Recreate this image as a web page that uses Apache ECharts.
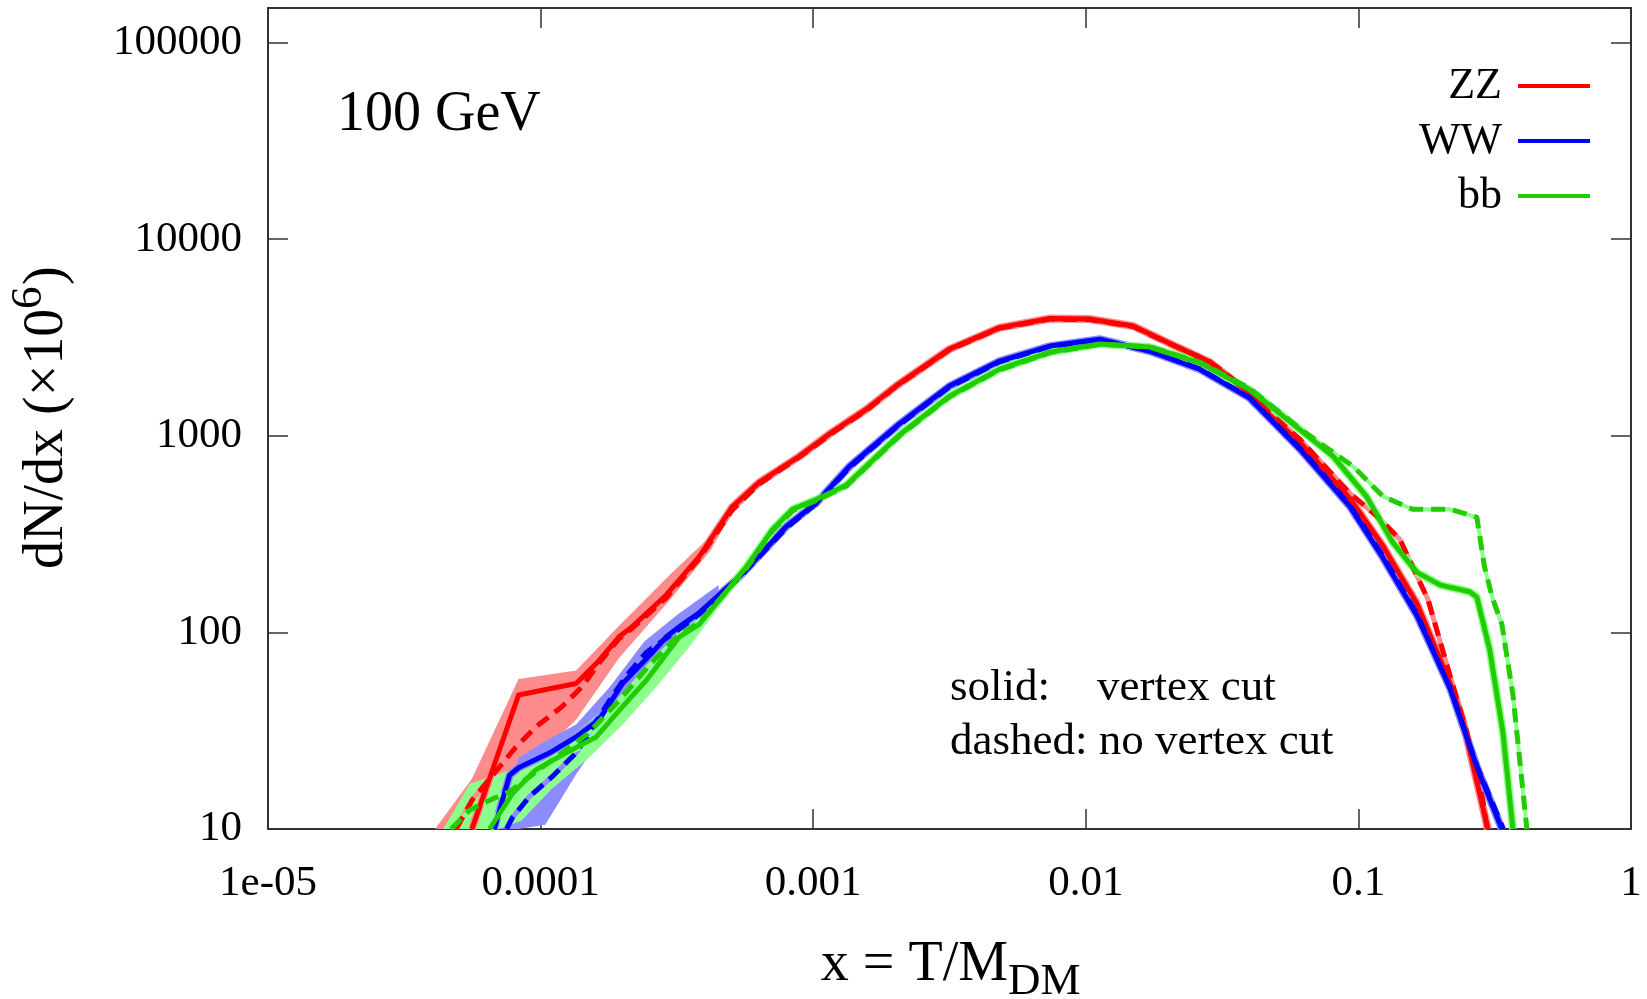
<!DOCTYPE html>
<html>
<head>
<meta charset="utf-8">
<script src="https://cdn.jsdelivr.net/npm/echarts@6/dist/echarts.min.js"></script>
<style>
html,body{margin:0;padding:0;background:#fff;}
#chart{width:1647px;height:999px;}
</style>
</head>
<body>
<div id="chart"></div>
<script>
// ---- tick labels ----
const xTickLabels = ['1e-05', '0.0001', '0.001', '0.01', '0.1', '1']; // 10^-5 .. 10^0
const yTickLabels = ['10', '100', '1000', '10000', '100000'];       // 10^1 .. 10^5

// ---- series: [x, dN/dx] ----
const zzSolid = [[5.6e-5,10],[8.3e-5,48],[1.35e-4,55],[1.64e-4,72],[1.94e-4,95],[2.17e-4,107],[2.89e-4,155],[3.82e-4,243],[5.05e-4,435],[6.34e-4,580],[8.9e-4,787],[1.17e-3,1043],[1.57e-3,1367],[2.02e-3,1800],[3.16e-3,2760],[4.83e-3,3550],[7.4e-3,3950],[1.03e-2,3930],[1.49e-2,3620],[1.98e-2,3000],[2.85e-2,2370],[3.98e-2,1650],[4.61e-2,1318],[6.1e-2,927],[9.3e-2,480],[0.123,275],[0.164,140],[0.217,55],[0.241,36],[0.2985,10]];
const zzDashed = [[4.9e-5,10],[5.6e-5,14],[8.1e-5,26],[9.6e-5,33],[1.2e-4,42],[1.42e-4,53],[1.64e-4,70],[1.94e-4,93],[2.17e-4,105],[2.89e-4,150],[3.82e-4,238],[5.05e-4,420],[6.34e-4,570],[8.9e-4,780],[1.17e-3,1030],[1.57e-3,1350],[2.02e-3,1790],[3.16e-3,2740],[4.83e-3,3530],[7.4e-3,3930],[1.03e-2,3900],[1.49e-2,3600],[1.98e-2,2990],[2.85e-2,2380],[3.98e-2,1680],[4.61e-2,1350],[6.1e-2,960],[9.3e-2,510],[0.117,390],[0.142,297],[0.18,147],[0.212,67],[0.25,31],[0.286,14],[0.297,10]];
const wwSolid = [[6.76e-5,10],[7.7e-5,18.8],[8.3e-5,20.5],[1.08e-4,24.4],[1.35e-4,29.4],[1.64e-4,36],[2.0e-4,55],[2.57e-4,79],[2.89e-4,95],[3.23e-4,107],[3.82e-4,126],[5.36e-4,192],[7.97e-4,346],[1.03e-3,458],[1.36e-3,700],[2.07e-3,1150],[3.16e-3,1790],[4.83e-3,2400],[7.4e-3,2860],[1.125e-2,3100],[1.71e-2,2700],[2.62e-2,2180],[3.98e-2,1560],[4.61e-2,1268],[6.1e-2,855],[9.3e-2,438],[0.123,240],[0.164,122],[0.217,52],[0.272,20.7],[0.336,10]];
const wwDashed = [[7.5e-5,10],[7.87e-5,11.4],[9.1e-5,14.6],[1.1e-4,18.4],[1.35e-4,24.4],[1.55e-4,33],[1.79e-4,45],[2.06e-4,60],[2.44e-4,79],[3.23e-4,104],[3.82e-4,124],[5.36e-4,190],[7.97e-4,340],[1.03e-3,455],[1.36e-3,690],[2.07e-3,1140],[3.16e-3,1770],[4.83e-3,2380],[7.4e-3,2850],[1.125e-2,3080],[1.71e-2,2700],[2.62e-2,2190],[3.98e-2,1570],[4.61e-2,1280],[6.1e-2,870],[9.3e-2,445],[0.123,245],[0.164,124],[0.217,52],[0.272,21],[0.34,10]];
const bbSolid = [[6.5e-5,10],[7.9e-5,15.2],[9.6e-5,20],[1.24e-4,24.4],[1.6e-4,29.4],[1.94e-4,40],[2.44e-4,57],[3.23e-4,95],[3.82e-4,110],[5.7e-4,216],[7.1e-4,334],[8.4e-4,423],[1.03e-3,475],[1.32e-3,560],[2.07e-3,1010],[3.16e-3,1592],[4.83e-3,2183],[7.4e-3,2668],[1.125e-2,2929],[1.71e-2,2830],[2.62e-2,2350],[3.98e-2,1720],[5.74e-2,1150],[8.05e-2,790],[0.107,492],[0.1337,287],[0.164,202],[0.2,174],[0.256,161],[0.272,151],[0.303,82],[0.339,31],[0.369,10]];
const bbDashed = [[4.7e-5,10],[5.5e-5,12.5],[6.5e-5,14],[7.7e-5,15.5],[9.6e-5,19.5],[1.2e-4,24.4],[1.5e-4,30.8],[1.94e-4,45],[2.5e-4,68],[3.23e-4,98],[3.82e-4,112],[5.7e-4,212],[7.1e-4,330],[8.4e-4,415],[1.03e-3,470],[1.32e-3,555],[2.07e-3,1000],[3.16e-3,1580],[4.83e-3,2170],[7.4e-3,2650],[1.125e-2,2920],[1.71e-2,2840],[2.62e-2,2370],[3.98e-2,1750],[6.25e-2,1060],[9.55e-2,700],[0.123,492],[0.158,423],[0.217,423],[0.272,385],[0.29,216],[0.31,150],[0.336,110],[0.369,48],[0.415,10]];

// ---- uncertainty bands at low x: [x, low, high] ----
const zzBand = [[4.1e-5,10,10],[5.6e-5,10,18],[8.3e-5,19,58],[1.35e-4,36,64],[1.94e-4,74,108],[3.0e-4,148,198],[4.2e-4,262,308],[5.0e-4,398,442]];
const wwBand = [[6.8e-5,10,10],[8.3e-5,10,23],[1.04e-4,10.5,28],[1.35e-4,19,34],[1.8e-4,34,53],[2.4e-4,60,90],[3.2e-4,93,124],[4.5e-4,150,174]];
const bbBand = [[4.4e-5,10,10],[5.5e-5,10,17],[7.0e-5,10,19],[8.5e-5,11,21],[1.1e-4,16,25],[1.5e-4,23,35],[2.0e-4,34,49],[2.6e-4,51,71],[3.5e-4,84,112],[5.0e-4,164,187]];

const RED = '#ff0000', BLUE = '#0000ff', GREEN = '#22cc00';
const LRED = '#ff8c8c', LBLUE = '#8c8cff', LGREEN = '#8cff8c';
const FONT = '"Liberation Serif", "DejaVu Serif", serif';
const AXC = '#333333';

function expLabel(v, arr, offset) {
  const l = Math.log10(v);
  const e = Math.round(l);
  if (Math.abs(l - e) > 1e-6) return '';
  const s = arr[e - offset];
  return s === undefined ? '' : s;
}

function bandSeries(band, color) {
  return {
    type: 'custom', silent: true, clip: true, z: 1,
    data: band,
    encode: { x: 0, y: [1, 2] },
    renderItem: function (params, api) {
      if (params.dataIndex !== 0) return null;
      const pts = [];
      for (let i = 0; i < band.length; i++) pts.push(api.coord([band[i][0], band[i][2]]));
      for (let i = band.length - 1; i >= 0; i--) pts.push(api.coord([band[i][0], band[i][1]]));
      return { type: 'polygon', shape: { points: pts }, style: { fill: color, stroke: null } };
    }
  };
}
function underlay(data, color, w) {
  return { type: 'line', data: data, symbol: 'none', silent: true, z: 2,
    lineStyle: { color: color, width: w }, itemStyle: { color: color } };
}
function curve(name, data, color, dashed) {
  return { type: 'line', name: name, data: data, symbol: 'none', showSymbol: false, silent: true, z: 3,
    lineStyle: { color: color, width: 5, type: dashed ? [14, 8] : 'solid', cap: 'butt', join: 'round' },
    itemStyle: { color: color } };
}

const baseX = { type: 'log', logBase: 10, min: 1e-5, max: 1,
  axisLine: { show: true, lineStyle: { color: AXC, width: 2 } },
  axisTick: { show: true, inside: true, length: 20, lineStyle: { color: AXC, width: 1.5 } },
  minorTick: { show: false }, splitLine: { show: false } };
const baseY = { type: 'log', logBase: 10, min: 10, max: 150000,
  axisLine: { show: true, lineStyle: { color: AXC, width: 2 } },
  axisTick: { show: true, inside: true, length: 20, lineStyle: { color: AXC, width: 1.5 } },
  minorTick: { show: false }, splitLine: { show: false } };

const option = {
  animation: false,
  backgroundColor: '#ffffff',
  grid: { left: 268, right: 16, top: 8, bottom: 170, containLabel: false },
  xAxis: [
    Object.assign({}, baseX, { position: 'bottom',
      axisLabel: { show: true, margin: 33, fontSize: 43, color: '#000', fontFamily: FONT,
        formatter: v => expLabel(v, xTickLabels, -5) } }),
    Object.assign({}, baseX, { position: 'top', axisLabel: { show: false } })
  ],
  yAxis: [
    Object.assign({}, baseY, { position: 'left',
      axisLabel: { show: true, margin: 26, fontSize: 43, color: '#000', fontFamily: FONT,
        formatter: v => expLabel(v, yTickLabels, 1) } }),
    Object.assign({}, baseY, { position: 'right', axisLabel: { show: false } })
  ],
  legend: {
    data: ['ZZ', 'WW', 'bb'],
    orient: 'vertical', right: 52, top: 59, align: 'right',
    icon: 'rect', itemWidth: 72, itemHeight: 4, itemGap: 11,
    selectedMode: false,
    textStyle: { fontSize: 44, lineHeight: 43, color: '#000', fontFamily: FONT, padding: [0, 11, 0, 0] }
  },
  graphic: [
    { type: 'text', left: 337, top: 87, silent: true,
      style: { text: '100 GeV', fontSize: 56, fontFamily: FONT, fill: '#000' } },
    { type: 'text', x: 950, y: 688, silent: true,
      style: { text: 'solid:', fontSize: 45, fontFamily: FONT, fill: '#000', align: 'left', verticalAlign: 'middle' } },
    { type: 'text', x: 1097, y: 688, silent: true,
      style: { text: 'vertex cut', fontSize: 45, fontFamily: FONT, fill: '#000', align: 'left', verticalAlign: 'middle' } },
    { type: 'text', x: 950, y: 742, silent: true,
      style: { text: 'dashed: no vertex cut', fontSize: 45, fontFamily: FONT, fill: '#000', align: 'left', verticalAlign: 'middle' } },
    { type: 'text', x: 1008, y: 965, silent: true,
      style: { text: 'x = T/M', fontSize: 56, fontFamily: FONT, fill: '#000', align: 'right', verticalAlign: 'middle' } },
    { type: 'text', x: 1008, y: 982, silent: true,
      style: { text: 'DM', fontSize: 45, fontFamily: FONT, fill: '#000', align: 'left', verticalAlign: 'middle' } },
    { type: 'group', x: 47, y: 417, rotation: Math.PI / 2, silent: true,
      children: [
        { type: 'text', x: -152, y: 0, style: { text: 'dN/dx (×10', fontSize: 56, fontFamily: FONT, fill: '#000', align: 'left', verticalAlign: 'middle' } },
        { type: 'text', x: 108, y: -18, style: { text: '6', fontSize: 45, fontFamily: FONT, fill: '#000', align: 'left', verticalAlign: 'middle' } },
        { type: 'text', x: 132, y: 0, style: { text: ')', fontSize: 56, fontFamily: FONT, fill: '#000', align: 'left', verticalAlign: 'middle' } }
      ] }
  ],
  series: [
    bandSeries(zzBand, LRED),
    bandSeries(wwBand, LBLUE),
    bandSeries(bbBand, LGREEN),
    underlay(zzSolid, LRED, 8), underlay(zzDashed, LRED, 5),
    underlay(wwSolid, LBLUE, 8), underlay(wwDashed, LBLUE, 5),
    underlay(bbSolid, LGREEN, 8), underlay(bbDashed, LGREEN, 4),
    curve('ZZ', zzSolid, RED, false), curve('ZZ dashed', zzDashed, RED, true),
    curve('WW', wwSolid, BLUE, false), curve('WW dashed', wwDashed, BLUE, true),
    curve('bb', bbSolid, GREEN, false), curve('bb dashed', bbDashed, GREEN, true)
  ]
};

const chart = echarts.init(document.getElementById('chart'), null, { renderer: 'canvas' });
chart.setOption(option);
</script>
</body>
</html>
